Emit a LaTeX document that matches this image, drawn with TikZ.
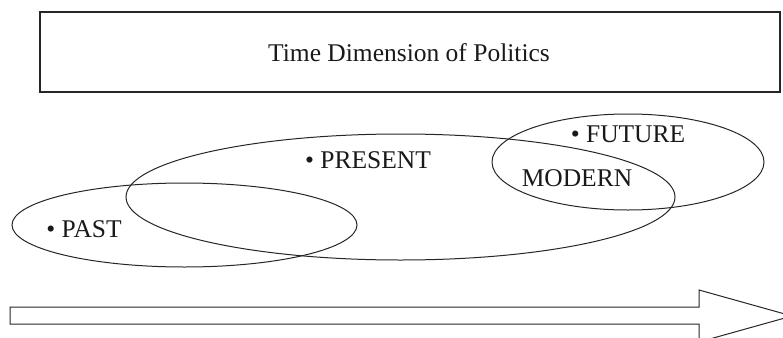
\documentclass[tikz,border=0pt]{standalone}
\usepackage{fontspec}
\setmainfont{Liberation Serif}
\usetikzlibrary{shapes.geometric}
\begin{document}
\begin{tikzpicture}[x=1pt,y=-1pt,
  lbl/.style={font=\fontsize{25.5}{28}\selectfont, inner sep=0pt, text=black!90},
  ell/.style={draw=black!85, line width=1pt, ellipse, inner sep=0pt},
  frame/.style={draw=black!85, line width=1.1pt}]
\useasboundingbox (0,0) rectangle (783,337);
\node[frame, minimum width=740pt, minimum height=80pt, inner sep=0pt] (title) at (410,52) {};
\node[lbl] (titletext) at (409,53) {Time Dimension of Politics};
\node[ell, minimum width=345pt, minimum height=84pt] (past) at (184.5,225) {};
\node[ell, minimum width=549pt, minimum height=126pt] (present) at (400.5,197) {};
\node[ell, minimum width=272pt, minimum height=96pt] (future) at (628,162) {};
\node[lbl] (pastl) at (84,229) {\textbullet\ PAST};
\node[lbl] (presentl) at (368,160) {\textbullet\ PRESENT};
\node[lbl] (futurel) at (628,134) {\textbullet\ FUTURE};
\node[lbl] (modernl) at (577,178) {MODERN};
\draw[frame, line width=1pt, line join=miter] (10,307) -- (699,307) -- (699,290) -- (792,316) -- (699,342) -- (699,324) -- (10,324) -- cycle;
\end{tikzpicture}
\end{document}
